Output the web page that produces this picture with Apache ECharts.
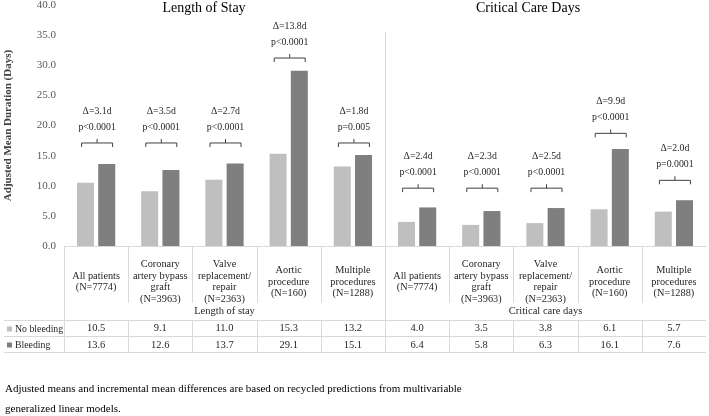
<!DOCTYPE html>
<html><head><meta charset="utf-8">
<script src="https://cdn.jsdelivr.net/npm/echarts@6/dist/echarts.min.js"></script>
<style>html,body{margin:0;padding:0;background:#fff}#c{width:709px;height:416px}</style>
</head><body><div id="c"></div>
<script>
const categories = [
  'All patients\n(N=7774)',
  'Coronary\nartery bypass\ngraft\n(N=3963)',
  'Valve\nreplacement/\nrepair\n(N=2363)',
  'Aortic\nprocedure\n(N=160)',
  'Multiple\nprocedures\n(N=1288)',
  'All patients\n(N=7774)',
  'Coronary\nartery bypass\ngraft\n(N=3963)',
  'Valve\nreplacement/\nrepair\n(N=2363)',
  'Aortic\nprocedure\n(N=160)',
  'Multiple\nprocedures\n(N=1288)'
];
const groupLabels = ['Length of stay', 'Critical care days'];
const panelTitles = ['Length of Stay', 'Critical Care Days'];
const noBleeding = [10.5, 9.1, 11.0, 15.3, 13.2, 4.0, 3.5, 3.8, 6.1, 5.7];
const bleeding   = [13.6, 12.6, 13.7, 29.1, 15.1, 6.4, 5.8, 6.3, 16.1, 7.6];
const deltaLabels = ['Δ=3.1d','Δ=3.5d','Δ=2.7d','Δ=13.8d','Δ=1.8d','Δ=2.4d','Δ=2.3d','Δ=2.5d','Δ=9.9d','Δ=2.0d'];
const pLabels = ['p<0.0001','p<0.0001','p<0.0001','p<0.0001','p=0.005','p<0.0001','p<0.0001','p<0.0001','p<0.0001','p=0.0001'];
const bracketLevels = [17.1, 17.1, 17.1, 31.2, 17.1, 9.6, 9.6, 9.6, 18.7, 10.9];
const yTicks = {min: 0, max: 40, interval: 5};
const footnote = 'Adjusted means and incremental mean differences are based on recycled predictions from multivariable\ngeneralized linear models.';

const FONT = '"Liberation Serif", "Times New Roman", serif';
const chart = echarts.init(document.getElementById('c'), null, {renderer: 'canvas'});

const hiddenAxis = (margin, formatter, data) => ({
  type: 'category', position: 'bottom', gridIndex: 0, data: data,
  axisLine: {show: false}, axisTick: {show: false}, splitLine: {show: false},
  axisLabel: {interval: 0, margin: margin, verticalAlign: 'middle', fontFamily: FONT, fontSize: 10.5, color: '#262626', formatter: formatter}
});

chart.setOption({
  animation: false,
  title: [
    {text: panelTitles[0], left: 199, top: -4, textAlign: 'center', textStyle: {fontFamily: FONT, fontSize: 14, fontWeight: 'normal', color: '#000'}},
    {text: panelTitles[1], left: 523, top: -4, textAlign: 'center', textStyle: {fontFamily: FONT, fontSize: 14, fontWeight: 'normal', color: '#000'}},
    {text: footnote, left: 0, top: 374, textStyle: {fontFamily: FONT, fontSize: 11, fontWeight: 'normal', color: '#000', lineHeight: 20}}
  ],
  legend: {
    data: ['No bleeding', 'Bleeding'], orient: 'vertical', left: 7, top: 321,
    itemWidth: 5, itemHeight: 5, itemGap: 0, icon: 'rect',
    textStyle: {fontFamily: FONT, fontSize: 9.8, color: '#262626', lineHeight: 16, padding: [0, 0, 0, -2]},
    padding: 0, selectedMode: false
  },
  grid: {left: 64, right: 3, top: 5, bottom: 170, containLabel: false, outerBoundsMode: 'none'},
  xAxis: [
    {type: 'category', data: categories, gridIndex: 0,
     axisLine: {show: true, lineStyle: {color: '#d9d9d9'}}, axisTick: {show: false},
     axisLabel: {interval: 0, margin: 36, verticalAlign: 'middle', lineHeight: 11.5, fontFamily: FONT, fontSize: 10.3, color: '#262626'}},
    hiddenAxis(65, null, groupLabels),
    hiddenAxis(82, (v, i) => noBleeding[i].toFixed(1), categories.map((c, i) => 'r1_' + i)),
    hiddenAxis(99, (v, i) => bleeding[i].toFixed(1), categories.map((c, i) => 'r2_' + i))
  ],
  yAxis: {
    type: 'value', min: yTicks.min, max: yTicks.max, interval: yTicks.interval,
    name: 'Adjusted Mean Duration (Days)', nameLocation: 'middle', nameGap: 50,
    nameTextStyle: {fontFamily: FONT, fontSize: 11, fontWeight: 'bold', color: '#404040'},
    axisLine: {show: false}, axisTick: {show: false}, splitLine: {show: false},
    axisLabel: {formatter: v => v.toFixed(1), margin: 8, fontFamily: FONT, fontSize: 11, color: '#595959'}
  },
  series: [
    {name: 'No bleeding', type: 'bar', data: noBleeding, barWidth: 17, barGap: '25%', itemStyle: {color: '#bfbfbf'}},
    {name: 'Bleeding', type: 'bar', data: bleeding, barWidth: 17, barGap: '25%', itemStyle: {color: '#7f7f7f'}},
    {name: 'annot', type: 'custom', data: bracketLevels.map((v, i) => [i, v]),
     renderItem: function (params, api) {
       const p = api.coord([api.value(0), api.value(1)]);
       const cx = p[0] + 1, y = p[1], hw = 15.5;
       const i = params.dataIndex;
       const ts = {fontFamily: FONT, fontSize: 9.8, fill: '#262626', textAlign: 'center', textVerticalAlign: 'middle'};
       return {type: 'group', children: [
         {type: 'polyline', shape: {points: [[cx - hw, y + 4], [cx - hw, y], [cx + hw, y], [cx + hw, y + 4]]}, style: {stroke: '#404040', lineWidth: 1, fill: null}},
         {type: 'line', shape: {x1: cx, y1: y, x2: cx, y2: y - 4}, style: {stroke: '#404040', lineWidth: 1}},
         {type: 'text', x: cx, y: y - 16, style: Object.assign({text: pLabels[i]}, ts)},
         {type: 'text', x: cx, y: y - 32, style: Object.assign({text: deltaLabels[i]}, ts)}
       ]};
     }}
  ]
});

// table / divider lines from the grid's coordinates
const c0 = chart.convertToPixel({xAxisIndex: 0}, 0);
const c1 = chart.convertToPixel({xAxisIndex: 0}, 1);
const band = c1 - c0;
const xL = c0 - band / 2;
const xR = xL + band * categories.length;
const y0 = chart.convertToPixel({yAxisIndex: 0}, 0);
const yDivTop = chart.convertToPixel({yAxisIndex: 0}, 35.5);
const hdrBottom = y0 + 57, r0 = y0 + 74, r1 = y0 + 90, r2 = y0 + 106;
const ls = {stroke: '#d9d9d9', lineWidth: 1};
const lines = [];
const px = v => Math.round(v) + 0.5;
lines.push({type: 'line', shape: {x1: px(xL), y1: y0, x2: px(xL), y2: r2}, style: ls});
for (let i = 1; i < categories.length; i++) {
  const x = px(xL + band * i);
  if (i === 5) {
    lines.push({type: 'line', shape: {x1: x, y1: yDivTop, x2: x, y2: r2}, style: ls});
  } else {
    lines.push({type: 'line', shape: {x1: x, y1: y0, x2: x, y2: hdrBottom}, style: ls});
    lines.push({type: 'line', shape: {x1: x, y1: r0, x2: x, y2: r2}, style: ls});
  }
}
[r0, r1, r2].forEach(y => lines.push({type: 'line', shape: {x1: 4, y1: px(y), x2: xR, y2: px(y)}, style: ls}));
chart.setOption({graphic: lines.map(l => Object.assign({silent: true, z: 0}, l))});
</script>
</body></html>
